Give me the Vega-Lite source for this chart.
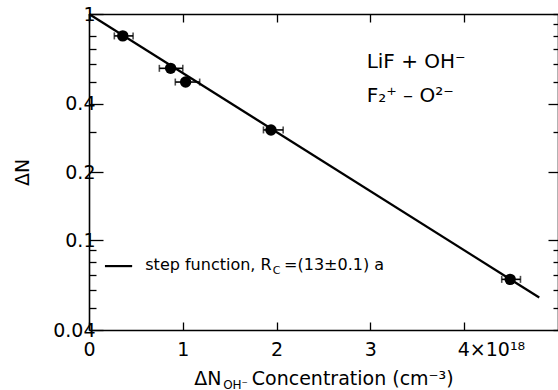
{
  "$schema": "https://vega.github.io/schema/vega-lite/v6.json",
  "width": 469,
  "height": 316,
  "autosize": {"type": "none"},
  "padding": {"left": 89, "top": 14, "right": 0, "bottom": 60},
  "background": "white",
  "config": {
    "view": {"stroke": null},
    "font": "DejaVu Sans",
    "axis": {
      "grid": false,
      "domainColor": "black",
      "domainWidth": 1.6,
      "tickColor": "black",
      "tickWidth": 1.3,
      "labelColor": "black",
      "titleColor": "black",
      "labelFont": "DejaVu Sans",
      "titleFont": "DejaVu Sans",
      "labelFontSize": 19,
      "titleFontSize": 19,
      "titleFontWeight": "normal"
    }
  },
  "datasets": {
    "points": [
      {"conc": 0.36, "dN": 0.80, "lo": 0.27, "hi": 0.47},
      {"conc": 0.87, "dN": 0.575, "lo": 0.75, "hi": 1.0},
      {"conc": 1.03, "dN": 0.50, "lo": 0.92, "hi": 1.18},
      {"conc": 1.94, "dN": 0.307, "lo": 1.86, "hi": 2.07},
      {"conc": 4.49, "dN": 0.067, "lo": 4.40, "hi": 4.60}
    ],
    "fit": [
      {"conc": 0, "dN": 1.0},
      {"conc": 4.8, "dN": 0.0557}
    ],
    "legendline": [
      {"conc": 0.17, "dN": 0.0767},
      {"conc": 0.46, "dN": 0.0767}
    ],
    "notes": [
      {"role": "big", "conc": 2.96, "dN": 0.577, "text": "LiF + OH⁻"},
      {"role": "big", "conc": 2.96, "dN": 0.408, "text": "F₂⁺ – O²⁻"},
      {"role": "legend", "conc": 0.60, "dN": 0.0736, "text": "step function, R"},
      {"role": "sub", "conc": 1.96, "dN": 0.0736, "text": "C"},
      {"role": "legend", "conc": 2.08, "dN": 0.0736, "text": "=(13±0.1) a"},
      {"role": "xsub", "conc": 1.43, "dN": 0.04, "text": "OH⁻"}
    ]
  },
  "layer": [
    {
      "data": {"name": "fit"},
      "mark": {"type": "line", "color": "black", "strokeWidth": 2.2},
      "encoding": {
        "x": {
          "field": "conc", "type": "quantitative",
          "scale": {"domain": [0, 5], "nice": false},
          "axis": {
            "orient": "bottom",
            "values": [0, 1, 2, 3, 4],
            "tickSize": -8,
            "labelPadding": 18,
            "labelExpr": "datum.value == 4 ? '4×10¹⁸' : datum.label",
            "labelAlign": {"condition": {"test": "datum.value == 4", "value": "left"}, "value": "center"},
            "labelOffset": {"condition": {"test": "datum.value == 4", "value": -7}, "value": 0},
            "title": "ΔN\u00a0\u00a0\u00a0\u00a0\u00a0Concentration (cm⁻³)",
            "titlePadding": 10
          }
        },
        "y": {
          "field": "dN", "type": "quantitative",
          "scale": {"type": "log", "domain": [0.04, 1], "nice": false},
          "axis": {
            "orient": "left",
            "values": [0.04, 0.05, 0.06, 0.07, 0.08, 0.09, 0.1, 0.2, 0.3, 0.4, 0.5, 0.6, 0.7, 0.8, 1],
            "tickSize": {"condition": {"test": "datum.value == 1 || datum.value == 0.4 || datum.value == 0.2 || datum.value == 0.1 || datum.value == 0.04", "value": -14}, "value": -7},
            "labelPadding": 8,
            "labelExpr": "datum.value == 1 ? '1' : datum.value == 0.4 ? '0.4' : datum.value == 0.2 ? '0.2' : datum.value == 0.1 ? '0.1' : datum.value == 0.04 ? '0.04' : ''",
            "title": "ΔN",
            "titlePadding": 20
          }
        }
      }
    },
    {
      "data": {"name": "points"},
      "mark": {"type": "rule", "color": "black", "strokeWidth": 1.6},
      "encoding": {
        "x": {"field": "lo", "type": "quantitative", "axis": {"orient": "top", "values": [0, 1, 2, 3, 4], "tickSize": -8, "labels": false, "title": null}},
        "x2": {"field": "hi"},
        "y": {"field": "dN", "type": "quantitative", "axis": {"orient": "right", "values": [0.04, 0.05, 0.06, 0.07, 0.08, 0.09, 0.1, 0.2, 0.3, 0.4, 0.5, 0.6, 0.7, 0.8, 0.9, 1], "tickSize": {"condition": {"test": "datum.value == 0.4 || datum.value == 0.2 || datum.value == 0.1", "value": -10}, "value": -5}, "labels": false, "title": null}}
      }
    },
    {
      "data": {"name": "points"},
      "mark": {"type": "tick", "orient": "vertical", "color": "black", "size": 7, "thickness": 1.6},
      "encoding": {
        "x": {"field": "lo", "type": "quantitative", "axis": null},
        "y": {"field": "dN", "type": "quantitative", "axis": null}
      }
    },
    {
      "data": {"name": "points"},
      "mark": {"type": "tick", "orient": "vertical", "color": "black", "size": 7, "thickness": 1.6},
      "encoding": {
        "x": {"field": "hi", "type": "quantitative", "axis": null},
        "y": {"field": "dN", "type": "quantitative", "axis": null}
      }
    },
    {
      "data": {"name": "points"},
      "mark": {"type": "circle", "color": "black", "opacity": 1, "size": 130},
      "encoding": {
        "x": {"field": "conc", "type": "quantitative", "axis": null},
        "y": {"field": "dN", "type": "quantitative", "axis": null}
      }
    },
    {
      "data": {"name": "legendline"},
      "mark": {"type": "line", "color": "black", "strokeWidth": 2.2},
      "encoding": {
        "x": {"field": "conc", "type": "quantitative", "axis": null},
        "y": {"field": "dN", "type": "quantitative", "axis": null}
      }
    },
    {
      "data": {"name": "notes"},
      "transform": [{"filter": "datum.role == 'big'"}],
      "mark": {"type": "text", "align": "left", "baseline": "alphabetic", "fontSize": 20, "color": "black"},
      "encoding": {
        "x": {"field": "conc", "type": "quantitative", "axis": null},
        "y": {"field": "dN", "type": "quantitative", "axis": null},
        "text": {"field": "text"}
      }
    },
    {
      "data": {"name": "notes"},
      "transform": [{"filter": "datum.role == 'legend'"}],
      "mark": {"type": "text", "align": "left", "baseline": "alphabetic", "fontSize": 16, "color": "black"},
      "encoding": {
        "x": {"field": "conc", "type": "quantitative", "axis": null},
        "y": {"field": "dN", "type": "quantitative", "axis": null},
        "text": {"field": "text"}
      }
    },
    {
      "data": {"name": "notes"},
      "transform": [{"filter": "datum.role == 'sub'"}],
      "mark": {"type": "text", "align": "left", "baseline": "alphabetic", "fontSize": 11, "dy": 4, "color": "black"},
      "encoding": {
        "x": {"field": "conc", "type": "quantitative", "axis": null},
        "y": {"field": "dN", "type": "quantitative", "axis": null},
        "text": {"field": "text"}
      }
    },
    {
      "data": {"name": "notes"},
      "transform": [{"filter": "datum.role == 'xsub'"}],
      "mark": {"type": "text", "align": "left", "baseline": "alphabetic", "fontSize": 12, "dy": 59, "color": "black"},
      "encoding": {
        "x": {"field": "conc", "type": "quantitative", "axis": null},
        "y": {"field": "dN", "type": "quantitative", "axis": null},
        "text": {"field": "text"}
      }
    }
  ],
  "resolve": {"axis": {"x": "independent", "y": "independent"}}
}
